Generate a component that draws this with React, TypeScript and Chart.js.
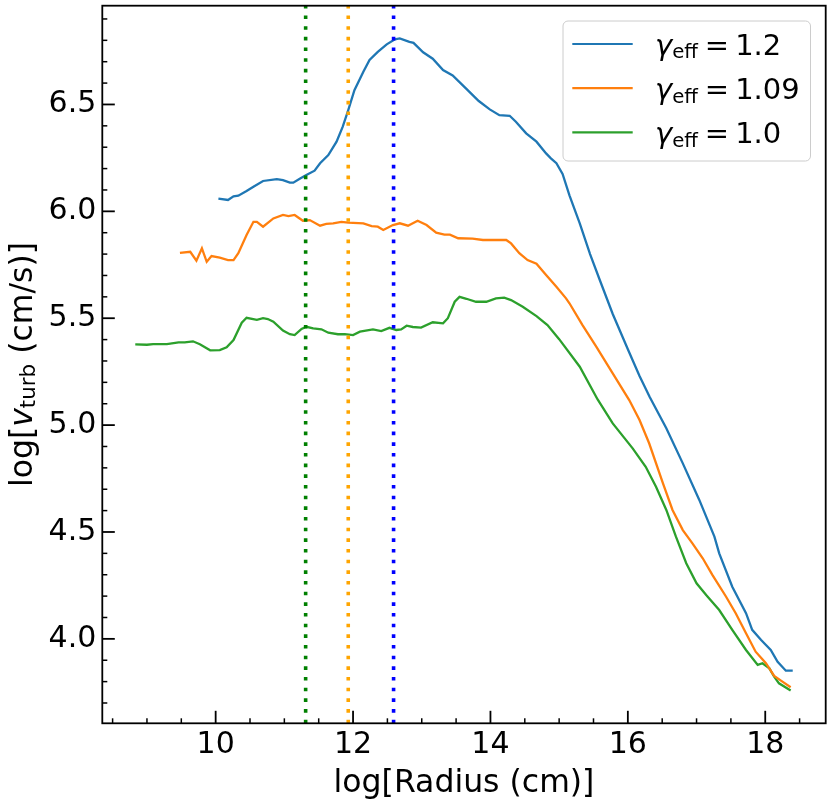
import { useEffect, useRef } from 'react'
import { Chart, registerables } from 'chart.js'

Chart.register(...registerables)

const FAMILY = "'DejaVu Sans', sans-serif"

// axis limits and ticks
const X_MIN = 8.35
const X_MAX = 18.88
const Y_MIN = 3.605
const Y_MAX = 6.962
const X_TICKS = [10, 12, 14, 16, 18]
const X_MINOR = [8.5, 9, 9.5, 10.5, 11, 11.5, 12.5, 13, 13.5, 14.5, 15, 15.5, 16.5, 17, 17.5, 18.5]
const Y_TICKS = [4.0, 4.5, 5.0, 5.5, 6.0, 6.5]
const Y_MINOR = [
  3.7, 3.8, 3.9, 4.1, 4.2, 4.3, 4.4, 4.6, 4.7, 4.8, 4.9, 5.1, 5.2, 5.3, 5.4,
  5.6, 5.7, 5.8, 5.9, 6.1, 6.2, 6.3, 6.4, 6.6, 6.7, 6.8, 6.9,
]

// gamma_eff = 1.2
const X_G12 = [
  10.04, 10.18, 10.26, 10.33, 10.45, 10.55, 10.69, 10.89, 10.98, 11.08, 11.13, 11.23, 11.32,
  11.44, 11.52, 11.64, 11.76, 11.85, 11.93, 12.02, 12.15, 12.24, 12.36, 12.49, 12.61, 12.68,
  12.82, 12.88, 13.02, 13.16, 13.31, 13.45, 13.65, 13.83, 13.99, 14.13, 14.28, 14.37, 14.52,
  14.67, 14.81, 14.88, 14.96, 15.05, 15.15, 15.30, 15.45, 15.59, 15.78, 16.0, 16.17, 16.32,
  16.56, 16.80, 17.04, 17.26, 17.33, 17.52, 17.72, 17.81, 17.94, 18.08, 18.18, 18.30, 18.40,
]
const Y_G12 = [
  6.06, 6.053, 6.07, 6.073, 6.095, 6.115, 6.142, 6.151, 6.146, 6.134, 6.134, 6.154, 6.17,
  6.19, 6.225, 6.263, 6.326, 6.396, 6.474, 6.567, 6.653, 6.708, 6.746, 6.781, 6.805, 6.809,
  6.793, 6.788, 6.744, 6.714, 6.661, 6.636, 6.573, 6.516, 6.477, 6.45, 6.447, 6.419, 6.365,
  6.326, 6.271, 6.248, 6.225, 6.175, 6.075, 5.944, 5.80, 5.68, 5.52, 5.355, 5.23, 5.13,
  4.985, 4.821, 4.65, 4.478, 4.40, 4.244, 4.12, 4.042, 3.995, 3.948, 3.893, 3.851, 3.851,
]

// gamma_eff = 1.09
const X_G109 = [
  9.48, 9.63, 9.72, 9.80, 9.87, 9.94, 10.06, 10.18, 10.26, 10.33, 10.45, 10.55, 10.60, 10.69,
  10.84, 10.98, 11.06, 11.15, 11.27, 11.37, 11.52, 11.61, 11.71, 11.83, 11.93, 12.15, 12.27,
  12.36, 12.44, 12.58, 12.68, 12.80, 12.94, 13.07, 13.21, 13.33, 13.41, 13.53, 13.74, 13.89,
  14.08, 14.23, 14.30, 14.42, 14.54, 14.67, 14.81, 14.96, 15.10, 15.15, 15.34, 15.54, 15.78,
  16.02, 16.17, 16.31, 16.51, 16.65, 16.80, 16.94, 17.09, 17.23, 17.43, 17.57, 17.72, 17.86,
  18.01, 18.13, 18.25, 18.37,
]
const Y_G109 = [
  5.806, 5.811, 5.769, 5.827, 5.764, 5.791, 5.783, 5.772, 5.772, 5.804, 5.889, 5.951, 5.951, 5.928,
  5.967, 5.983, 5.978, 5.983, 5.956, 5.959, 5.933, 5.941, 5.944, 5.951, 5.947, 5.944, 5.931,
  5.928, 5.913, 5.936, 5.944, 5.933, 5.956, 5.936, 5.90, 5.891, 5.891, 5.874, 5.872, 5.866,
  5.866, 5.866, 5.85, 5.804, 5.772, 5.755, 5.702, 5.647, 5.593, 5.57, 5.468, 5.367, 5.242,
  5.117, 5.024, 4.915, 4.728, 4.603, 4.509, 4.447, 4.377, 4.299, 4.197, 4.12, 4.026, 3.94,
  3.886, 3.827, 3.80, 3.774,
]

// gamma_eff = 1.0
const X_G10 = [
  8.83, 9.00, 9.09, 9.29, 9.46, 9.55, 9.67, 9.77, 9.92, 10.06, 10.16, 10.26, 10.38, 10.45,
  10.60, 10.69, 10.76, 10.84, 10.98, 11.08, 11.15, 11.25, 11.32, 11.42, 11.54, 11.64, 11.78,
  11.88, 12.00, 12.10, 12.29, 12.41, 12.53, 12.63, 12.70, 12.78, 12.87, 12.99, 13.16, 13.31,
  13.38, 13.48, 13.55, 13.65, 13.79, 13.94, 14.08, 14.20, 14.30, 14.47, 14.67, 14.83, 15.00,
  15.30, 15.56, 15.78, 16.07, 16.26, 16.41, 16.56, 16.70, 16.85, 17.00, 17.14, 17.33, 17.52,
  17.72, 17.89, 17.96, 18.06, 18.13, 18.20, 18.37,
]
const Y_G10 = [
  5.378, 5.376, 5.379, 5.379, 5.387, 5.387, 5.392, 5.378, 5.35, 5.351, 5.364, 5.398, 5.479, 5.502,
  5.492, 5.50, 5.496, 5.484, 5.442, 5.425, 5.421, 5.45, 5.46, 5.453, 5.448, 5.432, 5.425,
  5.426, 5.421, 5.437, 5.448, 5.44, 5.455, 5.445, 5.448, 5.465, 5.459, 5.456, 5.481, 5.476,
  5.50, 5.577, 5.60, 5.591, 5.577, 5.577, 5.593, 5.596, 5.585, 5.554, 5.51, 5.468, 5.402,
  5.273, 5.12, 5.008, 4.891, 4.805, 4.712, 4.603, 4.478, 4.354, 4.26, 4.205, 4.135, 4.042,
  3.948, 3.878, 3.886, 3.862, 3.823, 3.792, 3.758,
]

const SERIES_LABELS = ['1.2', '1.09', '1.0']
const SERIES_COLORS = ['#1f77b4', '#ff7f0e', '#2ca02c']

// vertical dotted markers
const VLINE_X = [11.31, 11.93, 12.59]
const VLINE_COLORS = ['#008000', '#ffa500', '#0000ff']

type Run = { text: string; italic?: boolean; sub?: boolean; gap?: number }

function runFont(r: Run, size: number) {
  const s = r.sub ? size * 0.68 : size
  return `${r.italic ? 'italic ' : ''}${s}px ${FAMILY}`
}

function measureRuns(ctx: CanvasRenderingContext2D, runs: Run[], size: number) {
  let w = 0
  for (const r of runs) {
    ctx.font = runFont(r, size)
    w += (r.gap || 0) + ctx.measureText(r.text).width
  }
  return w
}

function drawRuns(ctx: CanvasRenderingContext2D, runs: Run[], x: number, y: number, size: number) {
  let cx = x
  ctx.textAlign = 'left'
  ctx.textBaseline = 'alphabetic'
  for (const r of runs) {
    cx += r.gap || 0
    ctx.font = runFont(r, size)
    ctx.fillText(r.text, cx, r.sub ? y + size * 0.12 : y)
    cx += ctx.measureText(r.text).width
  }
}

const mplPlugin = {
  id: 'mplDecor',
  afterDraw(chart: any) {
    const { ctx, chartArea: a } = chart
    const xs = chart.scales.x
    const ys = chart.scales.y
    ctx.save()
    ctx.strokeStyle = '#000'
    const seg = (x1: number, y1: number, x2: number, y2: number) => {
      ctx.beginPath()
      ctx.moveTo(x1, y1)
      ctx.lineTo(x2, y2)
      ctx.stroke()
    }
    // inward ticks
    ctx.lineWidth = 1.8
    X_TICKS.forEach((v) => {
      const p = xs.getPixelForValue(v)
      seg(p, a.bottom, p, a.bottom - 12.5)
    })
    Y_TICKS.forEach((v) => {
      const p = ys.getPixelForValue(v)
      seg(a.left, p, a.left + 12.5, p)
    })
    ctx.lineWidth = 1.5
    X_MINOR.forEach((v) => {
      const p = xs.getPixelForValue(v)
      seg(p, a.bottom, p, a.bottom - 5)
    })
    Y_MINOR.forEach((v) => {
      const p = ys.getPixelForValue(v)
      seg(a.left, p, a.left + 5, p)
    })
    // frame
    ctx.lineWidth = 1.8
    ctx.strokeRect(a.left, a.top, a.right - a.left, a.bottom - a.top)

    // axis titles
    ctx.fillStyle = '#000'
    const tSize = 31.5
    const xTitle: Run[] = [{ text: 'log[Radius (cm)]' }]
    const xw = measureRuns(ctx, xTitle, tSize)
    drawRuns(ctx, xTitle, (a.left + a.right) / 2 - xw / 2, 791.5, tSize)

    const yTitle: Run[] = [
      { text: 'log[' },
      { text: 'v', italic: true },
      { text: 'turb', sub: true },
      { text: ' (cm/s)]' },
    ]
    const yw = measureRuns(ctx, yTitle, tSize)
    ctx.save()
    ctx.translate(31.5, (a.top + a.bottom) / 2)
    ctx.rotate(-Math.PI / 2)
    drawRuns(ctx, yTitle, -yw / 2, 0, tSize)
    ctx.restore()

    // legend
    const lx = 563
    const ly = 21
    const lw = 247.5
    const lh = 140
    ctx.beginPath()
    ctx.roundRect(lx, ly, lw, lh, 5)
    ctx.fillStyle = 'rgba(255,255,255,0.8)'
    ctx.fill()
    ctx.strokeStyle = '#cccccc'
    ctx.lineWidth = 1
    ctx.stroke()
    const lSize = 29
    SERIES_LABELS.forEach((lab, i) => {
      const cy = 44 + i * 44.2
      ctx.strokeStyle = SERIES_COLORS[i]
      ctx.lineWidth = 2.2
      seg(572.3, cy, 632.7, cy)
      ctx.fillStyle = '#000'
      drawRuns(
        ctx,
        [
          { text: 'γ', italic: true },
          { text: 'eff', sub: true },
          { text: '=', gap: 7 },
          { text: lab, gap: 6 },
        ],
        655,
        cy + 11,
        lSize,
      )
    })
    ctx.restore()
  },
}

function toPoints(xs: number[], ys: number[]) {
  return xs.map((x, i) => ({ x, y: ys[i] }))
}

export default function App() {
  const canvasRef = useRef<HTMLCanvasElement | null>(null)

  useEffect(() => {
    if (!canvasRef.current) return
    const vlines = VLINE_X.map((v, i) => ({
      data: [
        { x: v, y: Y_MIN },
        { x: v, y: Y_MAX },
      ],
      borderColor: VLINE_COLORS[i],
      borderWidth: 3.6,
      borderDash: [3.6, 7.07],
      borderCapStyle: 'butt' as const,
      showLine: true,
      pointRadius: 0,
      order: 0,
    }))
    const curves = [
      toPoints(X_G12, Y_G12),
      toPoints(X_G109, Y_G109),
      toPoints(X_G10, Y_G10),
    ].map((pts, i) => ({
      label: SERIES_LABELS[i],
      data: pts,
      borderColor: SERIES_COLORS[i],
      borderWidth: 2.3,
      showLine: true,
      pointRadius: 0,
      tension: 0,
      order: 1,
    }))

    const tickFont = { family: FAMILY, size: 30 }
    const chart = new Chart(canvasRef.current, {
      type: 'scatter',
      data: { datasets: [...vlines, ...curves] as any },
      options: {
        animation: false,
        responsive: true,
        maintainAspectRatio: false,
        layout: { padding: { top: 5.7, right: 5.3, left: 0, bottom: 0 } },
        plugins: { legend: { display: false }, tooltip: { enabled: false } },
        scales: {
          x: {
            type: 'linear',
            min: X_MIN,
            max: X_MAX,
            grid: { display: false, drawTicks: false },
            border: { display: false },
            afterBuildTicks: (s: any) => {
              s.ticks = X_TICKS.map((value) => ({ value }))
            },
            afterFit: (s: any) => {
              s.height = 82.7
              s.paddingLeft = 0
              s.paddingRight = 0
            },
            ticks: {
              font: tickFont,
              color: '#000',
              padding: 4,
              maxRotation: 0,
              autoSkip: false,
              callback: (v: any) => String(v),
            },
          },
          y: {
            type: 'linear',
            min: Y_MIN,
            max: Y_MAX,
            grid: { display: false, drawTicks: false },
            border: { display: false },
            afterBuildTicks: (s: any) => {
              s.ticks = Y_TICKS.map((value) => ({ value }))
            },
            afterFit: (s: any) => {
              s.width = 102.3
              s.paddingTop = 0
              s.paddingBottom = 0
            },
            ticks: {
              font: tickFont,
              color: '#000',
              padding: 6,
              autoSkip: false,
              callback: (v: any) => Number(v).toFixed(1),
            },
          },
        },
      },
      plugins: [mplPlugin],
    })
    return () => chart.destroy()
  }, [])

  return (
    <div style={{ position: 'absolute', left: 0, top: 0, width: 831, height: 806, background: '#fff' }}>
      <canvas ref={canvasRef} />
    </div>
  )
}
